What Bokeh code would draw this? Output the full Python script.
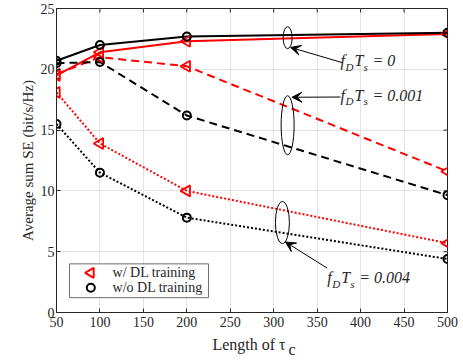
import math
from bokeh.plotting import figure
from bokeh.models import Range1d, Label, Arrow, VeeHead, LinearAxis, FixedTicker
from bokeh.embed import file_html
from bokeh.resources import INLINE

# ---- data ----
tau_c = [50, 100, 200, 500]
dl_0 = [19.5, 21.4, 22.3, 22.9]
nodl_0 = [20.7, 22.0, 22.7, 23.0]
dl_001 = [19.6, 21.0, 20.25, 11.6]
nodl_001 = [20.5, 20.6, 16.2, 9.65]
dl_004 = [18.1, 13.9, 10.0, 5.7]
nodl_004 = [15.5, 11.5, 7.8, 4.4]
x_ticks = [50, 100, 150, 200, 250, 300, 350, 400, 450, 500]
y_ticks = [0, 5, 10, 15, 20, 25]
legend_labels = ["w/ DL training", "w/o DL training"]
anno_values = ["0", "0.001", "0.004"]
x_title = "Length of \u03c4"
x_title_sub = "c"

FONT = "Liberation Serif"
TXT = "#262626"
RED = "#ff0000"

p = figure(width=463, height=360, output_backend="svg", toolbar_location=None,
           x_range=Range1d(50, 500), y_range=Range1d(0, 25),
           min_border_left=56, min_border_right=16, min_border_top=8, min_border_bottom=46)
p.background_fill_color = "white"
p.border_fill_color = "white"
p.outline_line_color = TXT
p.outline_line_width = 1

for ax in (p.xaxis[0], p.yaxis[0]):
    ax.major_label_text_font = FONT
    ax.major_label_text_font_size = "14px"
    ax.major_label_text_color = TXT
    ax.axis_line_color = TXT
    ax.major_tick_line_color = TXT
    ax.major_tick_in = 4
    ax.major_tick_out = 0
    ax.minor_tick_line_color = None
p.xaxis.ticker = x_ticks
p.yaxis.ticker = y_ticks
p.xaxis.major_label_standoff = 4
p.yaxis.major_label_standoff = 2

p.yaxis.axis_label = "Average sum SE (bit/s/Hz)"
p.yaxis.axis_label_text_font = FONT
p.yaxis.axis_label_text_font_size = "15px"
p.yaxis.axis_label_text_font_style = "normal"
p.yaxis.axis_label_text_color = TXT
p.yaxis.axis_label_standoff = 2

# x-axis title "Length of tau_c": a label-only axis below; the subscript sits on a
# second, tightly spaced line so that it drops a few pixels
title_x, sub_x = 271.5, 321
title_axis = LinearAxis(ticker=FixedTicker(ticks=[title_x, sub_x]),
                        major_label_overrides={title_x: x_title, sub_x: "\n" + x_title_sub},
                        major_label_text_font=FONT, major_label_text_font_size="16px",
                        major_label_text_line_height=0.3,
                        major_label_text_color=TXT, major_label_standoff=0,
                        axis_line_color=None, major_tick_line_color=None, minor_tick_line_color=None)
p.add_layout(title_axis, "below")

p.xgrid.ticker = x_ticks
p.ygrid.ticker = y_ticks
p.grid.grid_line_color = "#e3e3e3"
p.grid.grid_line_width = 1

# mirrored inward ticks on the right and top edges (MATLAB box style)
p.segment(x0=[500 - 4.6] * len(y_ticks), x1=[500] * len(y_ticks), y0=y_ticks, y1=y_ticks,
          line_color=TXT, line_width=1)
p.segment(x0=x_ticks, x1=x_ticks, y0=[25 - 0.33] * len(x_ticks), y1=[25] * len(x_ticks),
          line_color=TXT, line_width=1)

# lines and markers
series = [
    (dl_0, "solid", "dl"), (nodl_0, "solid", "nodl"),
    (dl_001, "dashed", "dl"), (nodl_001, "dashed", "nodl"),
    (dl_004, "dotted", "dl"), (nodl_004, "dotted", "nodl"),
]
dash_map = {"solid": "solid", "dashed": "8 5", "dotted": "2 2"}
for ys, dash, kind in series:
    p.line(tau_c, ys, line_color=RED if kind == "dl" else "black", line_width=2,
           line_dash=dash_map[dash])
for ys, dash, kind in series:
    if kind == "dl":
        p.scatter(tau_c, ys, marker="triangle", angle=math.pi / 2, size=11,
                  fill_color=None, line_color=RED, line_width=1.8)
    else:
        p.scatter(tau_c, ys, marker="circle", size=8,
                  fill_color=None, line_color="black", line_width=2)

# legend (drawn manually so the left-pointing triangle shows correctly)
p.quad(left=[65], right=[225], bottom=[1.22], top=[4.0], fill_color="white",
       line_color="#6b6b6b", line_width=1)
leg_x, leg_y = 89.5, [3.26, 2.04]
p.scatter([leg_x], [leg_y[0]], marker="triangle", angle=math.pi / 2, size=10,
          fill_color=None, line_color=RED, line_width=2)
p.scatter([leg_x], [leg_y[1]], marker="circle", size=8,
          fill_color=None, line_color="black", line_width=2)
for lab, ly in zip(legend_labels, leg_y):
    p.add_layout(Label(x=114.5, y=ly, text=lab, text_font=FONT, text_font_size="14px",
                       text_color=TXT, text_baseline="middle", text_align="left"))

# ellipses
ell_x = [316, 316, 310]
ell_y = [22.6, 15.4, 7.4]
ell_w = [9, 13, 14]
ell_h = [22, 59, 42]
p.ellipse(ell_x, ell_y, width=ell_w, height=ell_h, width_units="screen", height_units="screen",
          fill_color=None, line_color="black", line_width=1)

# arrows
arrows = [((378.8, 20.55), (319.5, 21.8)), ((376.8, 17.72), (321, 17.7)), ((361.5, 3.65), (313.5, 5.8))]
for (x0, y0), (x1, y1) in arrows:
    p.add_layout(Arrow(x_start=x0, y_start=y0, x_end=x1, y_end=y1, line_width=1, line_color="black",
                       end=VeeHead(size=10, fill_color="black", line_color="black", line_width=1)))

# annotation texts f_D T_s = value
text_pos = [(376.8, 20.7), (376.8, 17.86), (361.5, 2.85)]
for (tx, ty), val in zip(text_pos, anno_values):
    pieces = [("f", 0, 0, 16), ("D", 5, -6, 11), ("T", 14, 0, 16), ("s", 23, -6, 11), ("= " + val, 32, 0, 16)]
    for t, dx, dy, fs in pieces:
        p.add_layout(Label(x=tx, y=ty, x_offset=dx, y_offset=dy, text=t, text_font=FONT,
                           text_font_style="italic", text_font_size=f"{fs}px", text_color=TXT,
                           text_baseline="middle", text_align="left"))

open("out.html", "w").write(file_html(p, INLINE))
